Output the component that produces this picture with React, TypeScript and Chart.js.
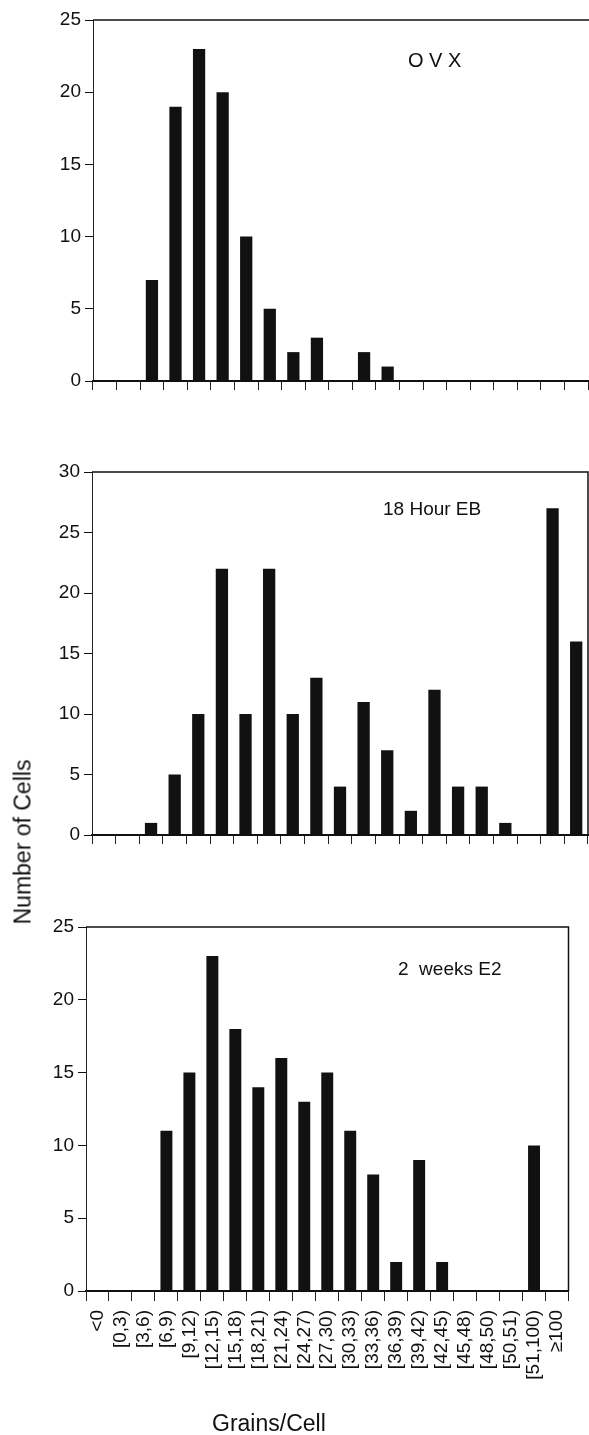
import React, { useEffect, useRef } from "react";
import { Chart, registerables } from "chart.js";

Chart.register(...registerables);

// ---- data ----
const categories = [
  "<0", "[0,3)", "[3,6)", "[6,9)", "[9,12)", "[12,15)", "[15,18)", "[18,21)",
  "[21,24)", "[24,27)", "[27,30)", "[30,33)", "[33,36)", "[36,39)", "[39,42)",
  "[42,45)", "[45,48)", "[48,50)", "[50,51)", "[51,100)", "≥100",
];
const ovxCounts = [0, 0, 7, 19, 23, 20, 10, 5, 2, 3, 0, 2, 1, 0, 0, 0, 0, 0, 0, 0, 0];
const eb18hCounts = [0, 0, 1, 5, 10, 22, 10, 22, 10, 13, 4, 11, 7, 2, 12, 4, 4, 1, 0, 27, 16];
const e2WeeksCounts = [0, 0, 0, 11, 15, 23, 18, 14, 16, 13, 15, 11, 8, 2, 9, 2, 0, 0, 0, 10, 0];
const panelTitles = ["O V X", "18 Hour EB", "2  weeks E2"];
const panelYMax = [25, 30, 25];
const yStep = 5;
const xAxisTitle = "Grains/Cell";
const yAxisTitle = "Number of Cells";

const FONT = "'Liberation Sans', Arial, Helvetica, sans-serif";
const INK = "#111";

const framePlugin = {
  id: "frame",
  afterDraw(chart: any, _args: any, opts: any) {
    const { ctx, chartArea: a } = chart;
    ctx.save();
    ctx.strokeStyle = INK;
    ctx.lineWidth = 1.5;
    ctx.beginPath();
    ctx.moveTo(a.left, a.top);
    ctx.lineTo(opts.right ? a.right : chart.width, a.top);
    if (opts.right) ctx.lineTo(a.right, a.bottom);
    ctx.stroke();
    ctx.restore();
  },
};

type PanelProps = {
  values: number[];
  yMax: number;
  top: number;
  height: number;
  padTop: number;
  padRight: number;
  yWidth: number;
  xHeight: number;
  tickLen: number;
  showLabels: boolean;
  rightBorder: boolean;
};

function Panel(p: PanelProps) {
  const ref = useRef<HTMLCanvasElement | null>(null);
  useEffect(() => {
    if (!ref.current) return;
    const chart = new Chart(ref.current, {
      type: "bar",
      data: {
        labels: categories,
        datasets: [
          {
            data: p.values,
            backgroundColor: INK,
            borderWidth: 0,
            barPercentage: 0.52,
            categoryPercentage: 1,
          },
        ],
      },
      options: {
        animation: false,
        responsive: false,
        maintainAspectRatio: false,
        events: [],
        layout: { padding: { top: p.padTop, right: p.padRight, left: 0, bottom: 0 } },
        plugins: {
          legend: { display: false },
          tooltip: { enabled: false },
          frame: { right: p.rightBorder },
        } as any,
        scales: {
          x: {
            type: "category",
            offset: true,
            grid: {
              display: true,
              offset: true,
              drawOnChartArea: false,
              drawTicks: true,
              tickLength: p.tickLen,
              color: "#222",
              lineWidth: 1,
            },
            border: { display: true, color: INK, width: 2 },
            ticks: {
              display: p.showLabels,
              autoSkip: false,
              maxRotation: 90,
              minRotation: 90,
              padding: 9,
              color: INK,
              font: { family: FONT, size: 19 },
            },
            afterFit: (s: any) => {
              s.height = p.xHeight;
            },
          },
          y: {
            min: 0,
            max: p.yMax,
            ticks: {
              stepSize: yStep,
              padding: 4,
              color: INK,
              font: { family: FONT, size: 19 },
            },
            grid: {
              display: true,
              drawOnChartArea: false,
              drawTicks: true,
              tickLength: 8,
              color: INK,
            },
            border: { display: true, color: "#222", width: 1 },
            afterFit: (s: any) => {
              s.width = p.yWidth;
            },
          },
        },
      },
      plugins: [framePlugin],
    });
    return () => chart.destroy();
  }, []);
  return (
    <canvas
      ref={ref}
      width={589}
      height={p.height}
      style={{ position: "absolute", left: 0, top: p.top, width: 589, height: p.height }}
    />
  );
}

const textBase: React.CSSProperties = {
  position: "absolute",
  fontFamily: FONT,
  color: INK,
  lineHeight: 1,
  whiteSpace: "pre",
};

export default function App() {
  return (
    <div
      style={{
        position: "absolute",
        left: 0,
        top: 0,
        width: 589,
        height: 1435,
        background: "#fff",
        overflow: "hidden",
      }}
    >
      <Panel values={ovxCounts} yMax={panelYMax[0]} top={0} height={400} padTop={20} padRight={1}
        yWidth={93} xHeight={19} tickLen={9} showLabels={false} rightBorder={false} />
      <Panel values={eb18hCounts} yMax={panelYMax[1]} top={440} height={420} padTop={32} padRight={1}
        yWidth={92} xHeight={25} tickLen={9} showLabels={false} rightBorder={true} />
      <Panel values={e2WeeksCounts} yMax={panelYMax[2]} top={900} height={535} padTop={27} padRight={8}
        yWidth={86} xHeight={144} tickLen={10} showLabels={true} rightBorder={true} />

      <div style={{ ...textBase, left: 408, top: 50, fontSize: 20 }}>{panelTitles[0]}</div>
      <div style={{ ...textBase, left: 383, top: 499, fontSize: 19 }}>{panelTitles[1]}</div>
      <div style={{ ...textBase, left: 398, top: 959, fontSize: 19 }}>{panelTitles[2]}</div>

      <div style={{ ...textBase, left: 212, top: 1412, fontSize: 23 }}>{xAxisTitle}</div>
      <div
        style={{
          ...textBase,
          left: 23,
          top: 842,
          fontSize: 23,
          transform: "translate(-50%, -50%) rotate(-90deg)",
        }}
      >
        {yAxisTitle}
      </div>
    </div>
  );
}
